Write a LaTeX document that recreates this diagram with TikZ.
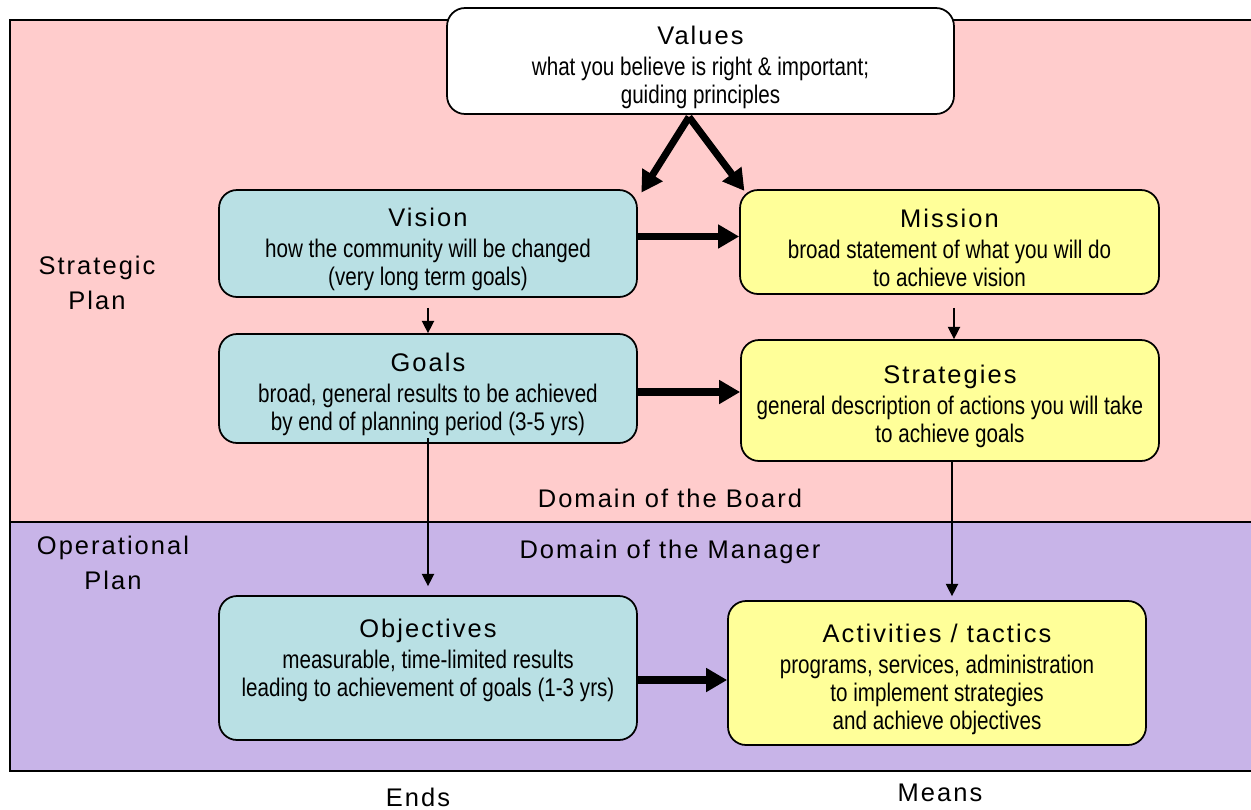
\documentclass[tikz,border=0pt]{standalone}
\usepackage{fontspec}
\setmainfont{Liberation Sans}
\newfontfamily\narrowfont[FakeStretch=0.81]{Liberation Sans}
\newfontfamily\widefont[LetterSpace=8]{Liberation Sans}
\usepackage{tikz}
\usetikzlibrary{arrows.meta}

\definecolor{stratpink}{RGB}{255,204,204}
\definecolor{operpurple}{RGB}{200,180,232}
\definecolor{endsblue}{RGB}{185,224,228}
\definecolor{meansyellow}{RGB}{255,255,153}

\newcommand{\boxtitle}[1]{{\widefont\fontsize{14.5}{16}\selectfont\rule{0pt}{17.5pt}#1}}

\begin{document}
\begin{tikzpicture}[x=0.02cm, y=-0.02cm,
    box/.style={draw=black, line width=1pt, rounded corners=0.36cm,
        minimum width=8.36cm, align=center, inner sep=2pt,
        font=\narrowfont\fontsize{14.5}{16}\selectfont},
    endsbox/.style={box, fill=endsblue},
    meansbox/.style={box, fill=meansyellow},
    plaintext/.style={align=center, font=\widefont\fontsize{14.5}{20}\selectfont},
    bigarrow/.style={-{Triangle[length=12pt,width=13pt]}, line width=4pt},
    smallarrow/.style={-{Triangle[length=7pt,width=7pt]}, line width=0.8pt}]
    \useasboundingbox (0,0) rectangle (1251,809);

    % the two planning domains
    \draw[fill=stratpink, line width=0.8pt] (10,522) -- (10,20) -- (1260,20) -- (1260,522) -- cycle;
    \draw[fill=operpurple, line width=0.8pt] (10,771) -- (10,522) -- (1260,522) -- (1260,771) -- cycle;

    \node[plaintext] (strategic) at (97,283) {Strategic\\Plan};
    \node[plaintext] (operational) at (113,563) {Operational\\Plan};
    \node[plaintext] (board) at (670,498) {Domain of the Board};
    \node[plaintext] (manager) at (670,552) {Domain of the Manager};
    \node[plaintext] (ends) at (418,797) {Ends};
    \node[plaintext] (means) at (940,793) {Means};

    % boxes
    \node[box, fill=white, minimum width=10.14cm, minimum height=2.12cm] (values) at (700.5,61)
        {\boxtitle{Values}\\[1.5pt] what you believe is right \& important;\\ guiding principles};
    \node[endsbox, minimum height=2.14cm] (vision) at (428,243.5)
        {\boxtitle{Vision}\\[1.5pt] how the community will be changed\\ (very long term goals)};
    \node[meansbox, minimum width=8.38cm, minimum height=2.08cm] (mission) at (949.5,242)
        {\boxtitle{Mission}\\[1.5pt] broad statement of what you will do\\ to achieve vision};
    \node[endsbox, minimum height=2.18cm] (goals) at (428,388.5)
        {\boxtitle{Goals}\\[1.5pt] broad, general results to be achieved\\ by end of planning period (3-5 yrs)};
    \node[meansbox, minimum height=2.42cm] (strategies) at (950,400.5)
        {\boxtitle{Strategies}\\[1.5pt] general description of actions you will take\\ to achieve goals};
    \node[endsbox, minimum height=2.88cm] (objectives) at (428,668)
        {\boxtitle{Objectives}\\[1.5pt] measurable, time-limited results\\ leading to achievement of goals (1-3 yrs)\\[3pt]};
    \node[meansbox, minimum height=2.88cm] (activities) at (937,673)
        {\boxtitle{Activities / tactics}\\[1.5pt] programs, services, administration\\ to implement strategies\\ and achieve objectives};

    % connectors
    \coordinate (split) at (689,117);
    \draw[bigarrow] (split) -- ([shift={(2pt,-2pt)}]vision.north east);
    \draw[bigarrow] (split) -- ([shift={(3pt,-1pt)}]mission.north west);
    \draw[bigarrow] ([yshift=0.14cm]vision.east) -- ([yshift=0.14cm]vision.east -| mission.west);
    \draw[bigarrow] ([yshift=-0.07cm]goals.east) -- ([yshift=-0.07cm]goals.east -| strategies.west);
    \draw[bigarrow] ([yshift=-0.24cm]objectives.east) -- ([yshift=-0.24cm]objectives.east -| activities.west);
    \draw[smallarrow, shorten <=0.2cm] (vision.south) -- (goals.north);
    \draw[smallarrow, shorten <=0.26cm] ([xshift=0.09cm]mission.south) -- ([xshift=0.09cm]mission.south |- strategies.north);
    \draw[smallarrow, shorten >=0.18cm] ([yshift=0.12cm]goals.south) -- (objectives.north);
    \draw[smallarrow] ([xshift=0.04cm]strategies.south) -- ([xshift=0.04cm,yshift=0.08cm]strategies.south |- activities.north);
\end{tikzpicture}
\end{document}
